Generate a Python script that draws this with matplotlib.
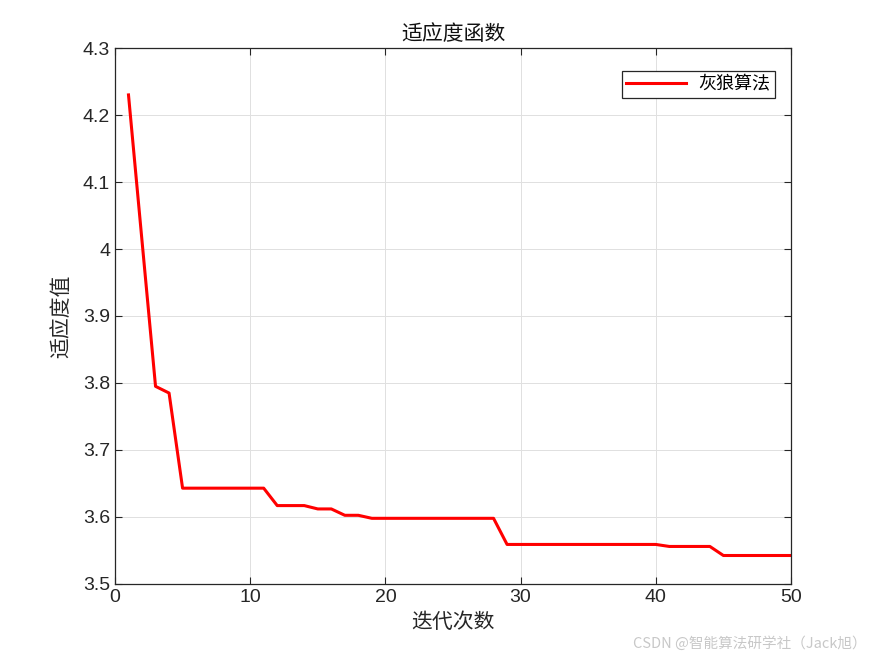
import matplotlib.pyplot as plt
import numpy as np

plt.rcParams['font.family'] = ['Liberation Sans', 'Noto Sans CJK SC', 'DejaVu Sans']

iters = np.arange(1, 51)
fitness = ([4.230, 4.012, 3.795, 3.785] + [3.643] * 7 + [3.617] * 3 + [3.612] * 2
           + [3.6025] * 2 + [3.598] * 10 + [3.559] * 12 + [3.556] * 4 + [3.5425] * 6)

cjk = ['Noto Sans CJK SC', 'DejaVu Sans']

fig = plt.figure(figsize=(8.75, 6.56), dpi=100)
ax = fig.add_axes([0.1314, 0.1098, 0.7726, 0.817])
ax.plot(iters, fitness, color='#ff0000', lw=2.2, label='灰狼算法')

ax.set_xlim(0, 50)
ax.set_ylim(3.5, 4.3)
ax.set_xticks(np.arange(0, 51, 10))
ax.set_yticks(np.arange(3.5, 4.31, 0.1))
ax.set_yticklabels(['3.5', '3.6', '3.7', '3.8', '3.9', '4', '4.1', '4.2', '4.3'])
ax.tick_params(direction='in', top=True, right=True, labelsize=14, colors='#262626', length=5)
ax.grid(True, color='#e0e0e0', lw=0.7)
for s in ax.spines.values():
    s.set_color('#262626')
    s.set_linewidth(0.9)

ax.set_title('适应度函数', family=cjk, fontsize=15, color='#111111', pad=6)
ax.set_xlabel('迭代次数', family=cjk, fontsize=15, color='#262626', labelpad=4)
ax.set_ylabel('适应度值', family=cjk, fontsize=15, color='#262626', labelpad=8)

leg = ax.legend(loc='upper right', bbox_to_anchor=(0.976, 0.957), borderaxespad=0,
                prop={'family': cjk, 'size': 13}, fancybox=False, edgecolor='#262626',
                framealpha=1, borderpad=0.25, handlelength=3.3, handletextpad=0.7)
leg.get_frame().set_linewidth(0.9)

fig.text(0.99, 0.008, 'CSDN @智能算法研学社（Jack旭）', family=cjk, fontsize=10.5,
         color='#c8c8c8', ha='right', va='bottom')

fig.savefig('out.png', dpi=100, facecolor='white')
